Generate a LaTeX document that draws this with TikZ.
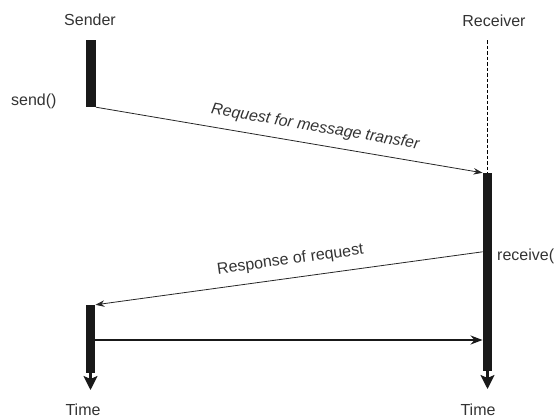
\documentclass[tikz,border=0pt]{standalone}
\usepackage{fontspec}
\setmainfont{Liberation Sans}
\usetikzlibrary{arrows.meta}
\begin{document}
\begin{tikzpicture}[x=1pt,y=-1pt,
  lbl/.style={font=\fontsize{16}{19}\selectfont, text=black!80, inner sep=0pt},
  ilbl/.style={font=\fontsize{16}{19}\selectfont\itshape, text=black!80, inner sep=0pt},
  bar/.style={fill=black!90, draw=none},
  timearrow/.style={line width=2.2pt, black!90, -{Stealth[length=14pt,width=14pt,inset=3pt]}},
  msg/.style={line width=0.8pt, black!85, -{Stealth[length=9pt,width=6.5pt]}},
  msgbold/.style={line width=1.7pt, black!90, -{Stealth[length=12pt,width=9pt]}}]
\useasboundingbox (0,0) rectangle (560,418);
% labels
\node[lbl] (sender) at (90,20) {Sender};
\node[lbl] (receiver) at (494,21) {Receiver};
\node[lbl, anchor=west] (send) at (11,101) {send()};
\node[lbl, anchor=west] (receive) at (497,256) {receive(};
\node[lbl] (time1) at (83,410) {Time};
\node[lbl] (time2) at (478,410) {Time};
% bars
\node[bar, minimum width=9.5pt, minimum height=67pt, inner sep=0pt] (sb1) at (91,73.5) {};
\node[bar, minimum width=9.5pt, minimum height=68pt, inner sep=0pt] (sb2) at (90.5,339) {};
\node[bar, minimum width=9.5pt, minimum height=198pt, inner sep=0pt] (rb) at (487.5,272) {};
\coordinate (st) at (90.5,390);
\coordinate (rt) at (487.5,389);
\draw[timearrow] (sb2.south) -- (st);
\draw[timearrow] (rb.south) -- (rt);
% dashed lifeline
\draw[line width=1.2pt, dash pattern=on 3.5pt off 2pt] (487.5,40) -- (rb.north);
% messages
\draw[msg] (sb1.south east) -- (rb.north west)
  node[ilbl, pos=0.56, sloped, above=9pt] {Request for message transfer};
\draw[msg] ([yshift=-79pt]rb.north west) -- (sb2.north east)
  node[lbl, pos=0.49, sloped, above=10pt] {Response of request};
\draw[msgbold] ([yshift=-1pt]sb2.east) -- ([yshift=-1pt]sb2.east -| rb.west);
\end{tikzpicture}
\end{document}
